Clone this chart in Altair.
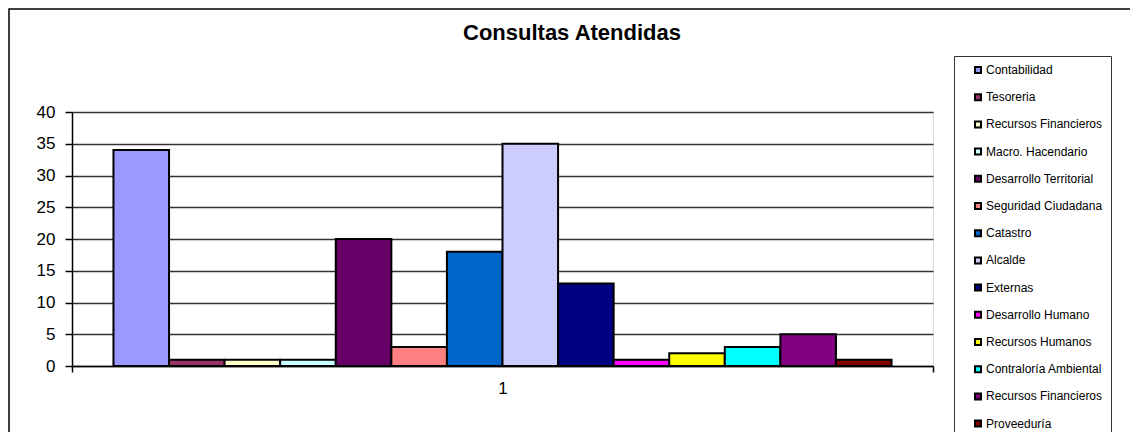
import json
import altair as alt
import pandas as pd

# ---- data ----
titulo = "Consultas Atendidas"
categoria = ["1"]
series = [
    "Contabilidad", "Tesoreria", "Recursos Financieros", "Macro. Hacendario",
    "Desarrollo Territorial", "Seguridad Ciudadana", "Catastro", "Alcalde",
    "Externas", "Desarrollo Humano", "Recursos Humanos", "Contraloría Ambiental",
    "Recursos Financieros", "Proveeduría",
]
consultas = [34, 1, 1, 1, 20, 3, 18, 35, 13, 1, 2, 3, 5, 1]
colores = [
    "#9999FF", "#993366", "#FFFFCC", "#CCFFFF", "#660066", "#FF8080", "#0066CC",
    "#CCCCFF", "#000080", "#FF00FF", "#FFFF00", "#00FFFF", "#800080", "#800000",
]
y_ticks = [0, 5, 10, 15, 20, 25, 30, 35, 40]

df = pd.DataFrame({
    "grupo": categoria * len(series),
    "orden": list(range(len(series))),
    "serie": series,
    "consultas": consultas,
})

label_expr = json.dumps(series, ensure_ascii=False) + "[datum.value]"
FONT = "Liberation Sans"

bars = alt.Chart(df).mark_bar(stroke="black", strokeWidth=2, opacity=1).encode(
    x=alt.X(
        "grupo:N", title=None,
        scale=alt.Scale(paddingInner=0, paddingOuter=0),
        axis=alt.Axis(labelAngle=0, tickBand="extent", grid=False,
                      domainColor="black", domainWidth=1.5, tickColor="black",
                      tickWidth=1.5, tickSize=6, labelFont=FONT, labelFontSize=17,
                      labelColor="black", labelPadding=8),
    ),
    xOffset=alt.XOffset("orden:O", scale=alt.Scale(paddingInner=0, paddingOuter=0.746)),
    y=alt.Y(
        "consultas:Q", title=None,
        scale=alt.Scale(domain=[0, 40], nice=False),
        axis=alt.Axis(values=y_ticks, grid=True, gridColor="#333333", gridWidth=1.5,
                      domainColor="black", domainWidth=1.5, tickColor="black",
                      tickWidth=1.5, tickSize=7, labelFont=FONT, labelFontSize=17,
                      labelColor="black", labelPadding=10),
    ),
    color=alt.Color(
        "orden:O",
        scale=alt.Scale(domain=list(range(len(series))), range=colores),
        legend=alt.Legend(
            title=None, orient="none", legendX=882, legendY=-56,
            strokeColor="#333333", fillColor="white", padding=8,
            symbolType="square", symbolSize=36, symbolStrokeColor="black",
            symbolStrokeWidth=2, symbolOffset=10, symbolOpacity=1,
            labelFont=FONT, labelFontSize=12, labelColor="black",
            labelOffset=2, rowPadding=13.2, labelExpr=label_expr, labelLimit=300,
        ),
    ),
)

frame = alt.Chart(pd.DataFrame({"k": [0]})).mark_rect(
    fillOpacity=0, stroke="black", strokeWidth=1.5
).encode(
    x=alt.value(-63), x2=alt.value(1500), y=alt.value(-103), y2=alt.value(900)
)

title_mark = alt.Chart(pd.DataFrame({"t": [titulo]})).mark_text(
    font=FONT, fontSize=22, fontWeight="bold", color="black",
    align="center", baseline="alphabetic"
).encode(
    text="t:N", x=alt.value(500), y=alt.value(-72)
)

chart = alt.layer(frame, bars, title_mark).properties(
    width=861,
    height=254,
    autosize=alt.AutoSizeParams(type="none"),
    padding={"left": 64, "top": 104, "right": 197, "bottom": 66},
).configure_view(
    fill="#C0C0C0", stroke="#808080", strokeWidth=1.5
).configure(background="white")

chart.save("out.html", embed_options={"renderer": "svg", "actions": False})
